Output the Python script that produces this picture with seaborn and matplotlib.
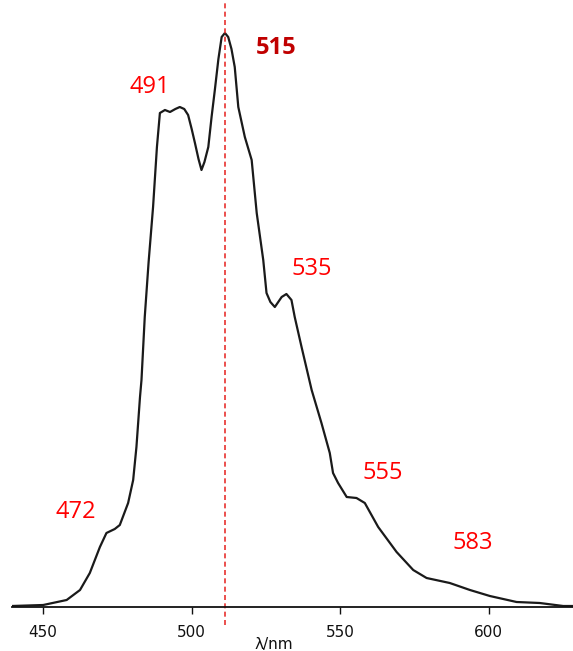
import matplotlib
matplotlib.use("Agg")
import matplotlib.pyplot as plt
import seaborn as sns

# emission spectrum
wavelength = [439.4, 450.0, 457.9, 462.4, 465.7, 469.1, 471.3, 474.1, 475.8, 478.6,
              480.3, 481.4, 482.6, 483.1, 484.2, 485.5, 487.0, 488.3, 489.3, 491.0,
              492.7, 494.5, 496.0, 497.5, 498.8, 500.0, 501.1, 502.3, 503.3, 504.3,
              505.6, 506.7, 507.8, 509.0, 510.1, 511.2, 512.3, 513.4, 514.5, 515.7,
              517.9, 520.2, 521.9, 524.1, 525.2, 526.5, 528.0, 530.3, 531.9, 533.6,
              534.7, 537.0, 540.4, 543.7, 546.5, 547.6, 549.3, 552.2, 555.5, 558.3,
              562.8, 569.0, 574.6, 579.1, 586.9, 593.7, 600.4, 609.4, 617.2, 625.1, 628.4]
intensity = [1, 2, 7, 17, 34, 60, 74, 78, 82, 104,
             127, 160, 210, 227, 290, 345, 400, 460, 494, 497,
             495, 498, 500, 498, 492, 478, 464, 448, 437, 445,
             460, 490, 517, 548, 570, 574, 570, 558, 540, 500,
             470, 447, 394, 347, 314, 305, 300, 310, 313, 307,
             290, 260, 217, 184, 154, 134, 124, 110, 109, 104,
             80, 55, 37, 29, 24, 17, 11, 5, 4, 1, 1]

peak_labels = ["472", "491", "535", "555", "583"]
label_x = [461.0, 485.9, 540.4, 564.5, 594.8]
label_y = [95, 520, 338, 134, 64]

main_peak = "515"
main_peak_line = 511.2
main_label_pos = (528.6, 559)

xticks = [450, 500, 550, 600]

sns.set_style("ticks")

fig = plt.figure(figsize=(5.73, 6.51), dpi=100)
ax = fig.add_axes([12 / 573, 44 / 651, 561 / 573, 607 / 651])

sns.lineplot(x=wavelength, y=intensity, ax=ax, color="#1a1a1a", linewidth=1.6)

ax.axvline(main_peak_line, ymin=-0.03, ymax=1, color="#e8312f", linestyle=(0, (3, 2)),
           linewidth=1.2, clip_on=False)

for t, x, y in zip(peak_labels, label_x, label_y):
    ax.text(x, y, t, color="#ff0000", fontsize=17, family="Open Sans",
            ha="center", va="center")
ax.text(main_label_pos[0], main_label_pos[1], main_peak, color="#c00000", fontsize=17,
        family="Open Sans", fontweight="bold", ha="center", va="center")

ax.set_xlim(439.5, 628.4)
ax.set_ylim(0, 607)
ax.set_xticks(xticks)
ax.set_yticks([])
ax.tick_params(axis="x", length=5, width=1, labelsize=11, pad=8, colors="#111111")
sns.despine(ax=ax, left=True, top=True, right=True)
ax.spines["bottom"].set_linewidth(1.3)
ax.spines["bottom"].set_color("#111111")

ax.set_xlabel("λ/nm", fontsize=11, color="#111111")
ax.xaxis.set_label_coords(0.467, -0.05)

fig.savefig("out.png", dpi=100)
